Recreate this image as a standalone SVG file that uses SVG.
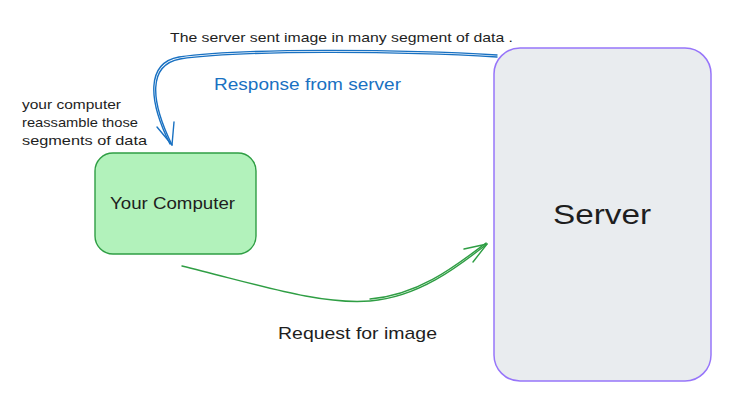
<svg xmlns="http://www.w3.org/2000/svg" width="744" height="411" viewBox="0 0 744 411">
<style>
.t{font-family:"Liberation Sans","DejaVu Sans",sans-serif;fill:#1e1e1e}
.s{font-size:13px}
.m{font-size:17px}
.blue{fill:none;stroke:#1971c2;stroke-width:1.4;stroke-linecap:round;stroke-linejoin:round}
.green{fill:none;stroke:#2f9e44;stroke-width:1.4;stroke-linecap:round;stroke-linejoin:round}
</style>
<rect width="744" height="411" fill="#ffffff"/>
<g id="connectors">
<g id="response-arrow">
<path class="blue" d="M 497 57 C 400 51, 240 50, 180 59 C 148 65, 150 100, 172 145"/>
<path class="blue" d="M 497 55 C 400 49, 240 48, 179 57 C 146 63, 148 100, 170 144" stroke-width="0.8"/>
<path class="blue" d="M 157 127 L 172 145 L 174 122"/>
</g>
<g id="request-arrow">
<path class="green" d="M 182 266 C 260 285, 320 305, 370 301 C 420 297, 460 265, 487 244"/>
<path class="green" d="M 370 299 C 420 295, 458 264, 486 243" stroke-width="0.8"/>
<path class="green" d="M 464 249 L 487 244 L 473 262"/>
</g>
</g>
<g id="computer">
<rect x="95" y="153" width="161" height="101" rx="18" fill="#b2f2bb" stroke="#2f9e44" stroke-width="1.4"/>
<text class="t m" x="110" y="209" textLength="125" lengthAdjust="spacingAndGlyphs">Your Computer</text>
</g>
<g id="server">
<rect x="494" y="48" width="217" height="333" rx="26" fill="#e9ecef" stroke="#9775fa" stroke-width="1.5"/>
<text class="t" x="553" y="224" font-size="28" textLength="98" lengthAdjust="spacingAndGlyphs">Server</text>
</g>
<g id="labels">
<text class="t s" x="170" y="42" textLength="343" lengthAdjust="spacingAndGlyphs">The server sent image in many segment of data .</text>
<text class="t m" x="214" y="90" fill="#1971c2" style="fill:#1971c2" textLength="187" lengthAdjust="spacingAndGlyphs">Response from server</text>
<text class="t s" x="22" y="109" textLength="99" lengthAdjust="spacingAndGlyphs">your computer</text>
<text class="t s" x="22" y="127" textLength="116" lengthAdjust="spacingAndGlyphs">reassamble those</text>
<text class="t s" x="22" y="145" textLength="125" lengthAdjust="spacingAndGlyphs">segments of data</text>
<text class="t m" x="278" y="339" textLength="159" lengthAdjust="spacingAndGlyphs">Request for image</text>
</g>
</svg>
